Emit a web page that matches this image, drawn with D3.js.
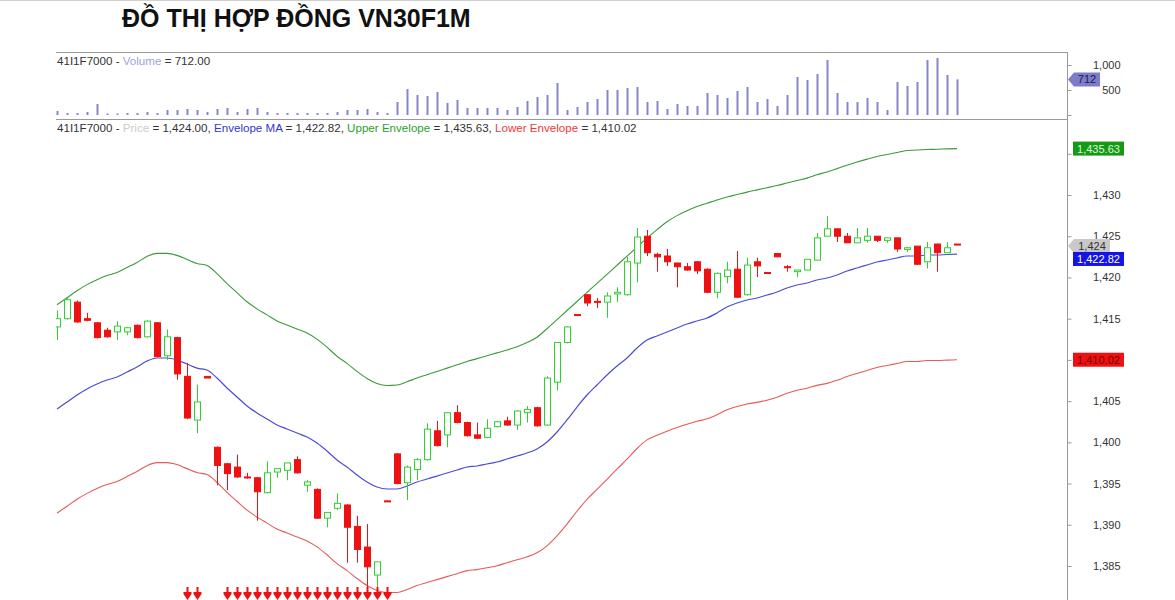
<!DOCTYPE html>
<html><head><meta charset="utf-8">
<script src="https://cdn.jsdelivr.net/npm/d3@7"></script>
<style>body{margin:0;background:#fff;} svg{display:block;font-family:"Liberation Sans",Arial,sans-serif;}</style>
</head><body><svg id="c" width="1175" height="600"></svg>
<script>
const title = "ĐỒ THỊ HỢP ĐỒNG VN30F1M";
const symbol = "41I1F7000";

const opens  = [1414.0,1415.0,1417.0,1415.0,1414.5,1413.6,1413.4,1413.4,1414.2,1412.8,1414.5,1410.5,1412.7,1408.0,1402.7,1408.0,1399.4,1397.4,1397.0,1395.8,1395.7,1393.9,1396.4,1396.6,1397.9,1394.8,1394.3,1390.8,1392.0,1392.4,1389.8,1387.3,1383.9,1392.9,1398.6,1395.1,1396.7,1397.9,1401.4,1400.9,1403.6,1402.4,1400.9,1400.6,1401.9,1402.6,1402.1,1403.6,1404.2,1402.1,1407.3,1412.1,1415.5,1417.9,1417.1,1417.0,1418.0,1417.9,1421.75,1425.0,1422.8,1422.6,1421.75,1421.3,1421.9,1421.0,1418.2,1420.1,1421.0,1417.9,1421.9,1420.6,1422.9,1421.3,1420.7,1420.9,1422.1,1425.0,1425.9,1425.0,1424.2,1424.5,1425.0,1424.5,1424.8,1423.4,1423.8,1421.9,1424.05,1423.0,1424.05];
const highs  = [1416.0,1417.5,1417.2,1415.7,1414.6,1413.9,1414.7,1414.0,1414.3,1414.8,1414.6,1413.7,1412.8,1409.6,1407.0,1408.0,1399.5,1397.5,1398.5,1396.3,1395.8,1397.7,1396.8,1397.5,1398.3,1395.4,1394.4,1391.5,1393.8,1392.5,1391.1,1390.1,1385.5,1392.9,1398.7,1397.2,1398.1,1402.3,1402.6,1403.6,1404.5,1402.5,1402.4,1402.8,1402.6,1403.1,1403.9,1404.4,1404.3,1408.0,1412.1,1414.1,1415.5,1418.0,1417.5,1418.2,1418.8,1422.5,1426.0,1425.75,1423.0,1423.45,1421.8,1421.75,1422.0,1421.1,1420.6,1421.9,1423.2,1422.4,1422.4,1420.6,1422.9,1421.5,1420.9,1422.2,1425.4,1427.45,1425.9,1425.4,1426.0,1426.0,1425.0,1424.8,1424.8,1423.7,1423.8,1424.3,1424.1,1424.3,1424.05];
const lows   = [1412.4,1414.9,1414.5,1414.7,1412.6,1412.7,1412.4,1413.0,1412.6,1412.7,1410.3,1410.0,1407.6,1402.8,1401.1,1407.8,1394.8,1394.2,1395.7,1395.6,1390.5,1393.8,1395.7,1395.4,1396.2,1394.0,1390.7,1389.7,1391.8,1385.4,1385.4,1381.5,1382.1,1392.8,1394.9,1393.0,1395.4,1397.8,1399.5,1399.4,1402.3,1400.7,1400.4,1400.5,1401.8,1402.0,1401.5,1402.4,1401.9,1402.0,1406.3,1412.0,1415.4,1416.5,1416.3,1415.1,1417.0,1417.8,1419.4,1422.6,1420.7,1421.4,1418.8,1420.8,1420.4,1418.1,1417.5,1419.3,1417.5,1417.8,1420.05,1420.5,1422.5,1420.7,1420.05,1420.9,1422.1,1425.0,1424.3,1424.2,1424.2,1424.2,1424.3,1424.2,1423.1,1423.1,1421.5,1421.1,1420.7,1423.0,1424.0];
const closes = [1415.0,1417.3,1414.6,1414.8,1412.7,1412.8,1414.1,1413.9,1412.7,1414.7,1410.4,1412.8,1408.3,1402.95,1404.9,1407.8,1397.2,1396.2,1395.8,1395.7,1394.0,1396.3,1396.8,1397.5,1396.3,1395.2,1390.8,1391.5,1392.6,1389.7,1387.0,1384.9,1385.5,1392.8,1395.0,1397.0,1397.9,1401.6,1399.6,1403.6,1402.4,1400.8,1400.5,1401.7,1402.5,1402.1,1403.8,1404.0,1402.0,1407.8,1412.1,1414.0,1415.4,1416.9,1417.0,1417.75,1418.2,1421.9,1424.9,1423.0,1422.5,1421.9,1421.3,1420.9,1420.8,1418.2,1420.5,1420.9,1417.6,1421.5,1421.4,1420.5,1422.5,1421.2,1420.9,1422.2,1424.8,1425.9,1425.0,1424.2,1424.8,1425.0,1424.5,1424.8,1423.45,1423.6,1421.6,1423.6,1423.0,1423.6,1424.0];

const volumes = [80,40,40,60,220,30,30,40,40,60,40,100,100,120,100,60,120,140,60,120,140,60,40,40,40,40,40,40,60,100,100,120,60,40,260,520,400,380,460,240,300,140,140,140,140,100,160,280,360,400,640,100,160,260,320,500,500,540,560,260,280,120,220,180,180,440,400,340,480,560,260,320,180,400,760,700,820,1100,440,260,260,340,260,100,660,580,660,1100,1140,800,712];

const envMA = [1404.04,1404.89,1405.74,1406.47,1407.07,1407.56,1407.92,1408.53,1409.14,1409.86,1410.23,1410.23,1409.99,1409.50,1409.01,1408.77,1407.80,1406.59,1405.50,1404.41,1403.56,1402.83,1402.10,1401.62,1401.13,1400.65,1399.92,1398.95,1397.86,1397.01,1396.04,1395.19,1394.58,1394.34,1394.34,1394.70,1395.19,1395.55,1395.91,1396.28,1396.64,1397.01,1397.13,1397.37,1397.61,1397.98,1398.34,1398.70,1399.19,1400.04,1401.25,1402.71,1404.28,1405.74,1406.95,1408.17,1409.26,1410.23,1411.44,1412.41,1412.90,1413.38,1413.87,1414.35,1414.72,1415.08,1415.69,1416.41,1416.90,1417.26,1417.51,1417.87,1418.23,1418.72,1419.08,1419.33,1419.69,1419.93,1420.30,1420.78,1421.15,1421.51,1421.87,1422.12,1422.36,1422.60,1422.60,1422.72,1422.72,1422.78,1422.82];
const envUpper = [1416.68,1417.53,1418.39,1419.13,1419.73,1420.23,1420.59,1421.21,1421.82,1422.55,1422.92,1422.92,1422.68,1422.19,1421.69,1421.45,1420.47,1419.25,1418.15,1417.05,1416.19,1415.46,1414.72,1414.23,1413.74,1413.26,1412.52,1411.54,1410.44,1409.58,1408.60,1407.75,1407.13,1406.89,1406.95,1407.35,1407.80,1408.20,1408.60,1409.00,1409.40,1409.80,1410.15,1410.50,1410.85,1411.20,1411.60,1412.10,1412.75,1413.78,1414.88,1415.99,1417.08,1418.19,1419.28,1420.38,1421.48,1422.58,1423.68,1424.77,1425.80,1426.75,1427.50,1428.10,1428.60,1429.00,1429.40,1429.75,1430.05,1430.35,1430.62,1430.88,1431.15,1431.45,1431.75,1432.05,1432.45,1432.80,1433.20,1433.62,1434.00,1434.35,1434.67,1434.92,1435.16,1435.40,1435.45,1435.52,1435.55,1435.60,1435.63];
const envLower = [1391.40,1392.25,1393.09,1393.81,1394.41,1394.89,1395.25,1395.85,1396.46,1397.17,1397.54,1397.54,1397.30,1396.81,1396.33,1396.09,1395.13,1393.93,1392.85,1391.77,1390.93,1390.20,1389.48,1389.01,1388.52,1388.04,1387.32,1386.36,1385.28,1384.44,1383.48,1382.63,1382.03,1381.79,1381.79,1382.15,1382.63,1382.99,1383.35,1383.71,1384.07,1384.44,1384.56,1384.79,1385.03,1385.40,1385.75,1386.11,1386.60,1387.44,1388.64,1390.09,1391.64,1393.09,1394.29,1395.50,1396.75,1397.95,1399.25,1400.30,1400.85,1401.35,1401.80,1402.20,1402.55,1402.85,1403.35,1403.95,1404.35,1404.65,1404.85,1405.11,1405.47,1405.95,1406.31,1406.56,1406.91,1407.15,1407.52,1407.99,1408.36,1408.72,1409.07,1409.32,1409.56,1409.80,1409.80,1409.92,1409.92,1409.97,1410.02];

const signalIdx = [13,14,17,18,19,20,21,22,23,24,25,26,27,28,29,30,31,32,33];
const priceTicks = [1385,1390,1395,1400,1405,1410,1415,1420,1425,1430,1435];
const volumeTicks = [0,500,1000];

const C_UP = "#2fd12f", C_DN = "#ee1111";
const svg = d3.select("#c");
const W = 1175;
const left = 56, right = 1067;
const FS = 11.6;

// scales
const x = d3.scaleLinear().domain([0, closes.length - 1]).range([57, 957]);
const y = d3.scaleLinear().domain([1385, 1430]).range([566, 195]);
const vy = d3.scaleLinear().domain([0, 1000]).range([115, 65]);

// top line
svg.append("line").attr("x1",0).attr("x2",W).attr("y1",0.5).attr("y2",0.5).attr("stroke","#d0d0d0");

// title
svg.append("text").attr("x",122).attr("y",27).attr("font-size",25).attr("font-weight","bold")
  .attr("fill","#111").text(title);

// clip paths
const defs = svg.append("defs");
defs.append("clipPath").attr("id","cp").append("rect").attr("x",left).attr("y",121).attr("width",right-left).attr("height",479);
defs.append("clipPath").attr("id","cv").append("rect").attr("x",left).attr("y",53).attr("width",right-left).attr("height",66);

// panel borders
svg.append("line").attr("x1",left).attr("x2",right).attr("y1",52.5).attr("y2",52.5).attr("stroke","#999");
svg.append("line").attr("x1",left).attr("x2",right).attr("y1",119.5).attr("y2",119.5).attr("stroke","#999");
svg.append("line").attr("x1",right+0.5).attr("x2",right+0.5).attr("y1",52).attr("y2",600).attr("stroke","#999");

// volume bars
const gv = svg.append("g").attr("clip-path","url(#cv)");
gv.selectAll("rect").data(volumes).join("rect")
  .attr("x",(d,i)=>Math.round(x(i))-0.5).attr("width",2)
  .attr("y",d=>vy(d)).attr("height",d=>Math.max(1,vy(0)-vy(d)))
  .attr("fill","#8585c8");

// volume axis
const vAxis = d3.axisRight(vy).tickValues(volumeTicks).tickSize(4).tickFormat(d=> d===0 ? "" : d3.format(",")(d));
const gva = svg.append("g").attr("transform",`translate(${right+0.5},0)`).call(vAxis);
gva.select(".domain").remove();
gva.selectAll("line").attr("stroke","#999");
gva.selectAll("text").attr("x",53).attr("text-anchor","end").attr("font-size",11).attr("fill","#333").attr("font-family","Liberation Sans, Arial, sans-serif");

// price panel
const gp = svg.append("g").attr("clip-path","url(#cp)");
const line = d3.line().x((d,i)=>x(i)).y(d=>y(d)).curve(d3.curveMonotoneX);
gp.append("path").datum(envUpper).attr("d",line).attr("fill","none").attr("stroke","#3c9a3c").attr("stroke-width",1.1);
gp.append("path").datum(envLower).attr("d",line).attr("fill","none").attr("stroke","#e85a5a").attr("stroke-width",1.1);
gp.append("path").datum(envMA).attr("d",line).attr("fill","none").attr("stroke","#4c4cd6").attr("stroke-width",1.2);

const candles = closes.map((c,i)=>({i, o:opens[i], h:highs[i], l:lows[i], c}));
const gc = gp.append("g");
candles.forEach(d=>{
  const cx = Math.round(x(d.i));
  const up = d.c >= d.o;
  const col = up ? C_UP : C_DN;
  gc.append("line").attr("x1",cx+0.5).attr("x2",cx+0.5).attr("y1",y(d.h)).attr("y2",y(d.l)).attr("stroke",col).attr("stroke-width",1);
  const top = y(Math.max(d.o,d.c)), bot = y(Math.min(d.o,d.c));
  gc.append("rect").attr("x",cx-2.5).attr("width",6)
    .attr("y",top).attr("height",Math.max(1,bot-top))
    .attr("fill", up ? "#fff" : C_DN).attr("stroke",col).attr("stroke-width",1);
});

// signal arrows
const ga = gp.append("g");
signalIdx.forEach(i=>{
  const cx = Math.round(x(i)) + 0.5;
  ga.append("path").attr("d",`M${cx-1},587 L${cx+1},587 L${cx+1},592 L${cx+4},592 L${cx+4},594 L${cx},600 L${cx-4},594 L${cx-4},592 L${cx-1},592 Z`)
    .attr("fill","#ee1111");
});

// header labels
const f2 = d3.format(",.2f");
const n = closes.length - 1;
const vl = svg.append("text").attr("x",57).attr("y",65).attr("font-size",FS).attr("fill","#333");
vl.append("tspan").text(symbol + " - ");
vl.append("tspan").attr("fill","#a0a0e0").text("Volume");
vl.append("tspan").text(" = " + f2(volumes[n]));

const pl = svg.append("text").attr("x",57).attr("y",132).attr("font-size",FS).attr("fill","#333");
pl.append("tspan").text(symbol + " - ");
pl.append("tspan").attr("fill","#cccccc").text("Price");
pl.append("tspan").text(" = " + f2(closes[n]) + ", ");
pl.append("tspan").attr("fill","#3434d0").text("Envelope MA");
pl.append("tspan").text(" = " + f2(envMA[n]) + ", ");
pl.append("tspan").attr("fill","#2e9e2e").text("Upper Envelope");
pl.append("tspan").text(" = " + f2(envUpper[n]) + ", ");
pl.append("tspan").attr("fill","#ee3a3a").text("Lower Envelope");
pl.append("tspan").text(" = " + f2(envLower[n]));

// callout positions
const boxes = [
  {cy: y(envUpper[n]), txt: f2(envUpper[n]), fill:"#169a16", tcol:"#d8f8d8"},
  {cy: y(closes[n]) + 14.5, txt: f2(envMA[n]), fill:"#1414e8", tcol:"#ffffff"},
  {cy: y(envLower[n]), txt: f2(envLower[n]), fill:"#ee1111", tcol:"#7a0000"}
];

// price axis (labels hidden where a value box covers them)
const pAxis = d3.axisRight(y).tickValues(priceTicks).tickSize(4).tickFormat(d3.format(","));
const gpa = svg.append("g").attr("transform",`translate(${right+0.5},0)`).call(pAxis);
gpa.select(".domain").remove();
gpa.selectAll("line").attr("stroke","#999");
gpa.selectAll("text").attr("x",53).attr("text-anchor","end").attr("font-size",11).attr("fill","#333").attr("font-family","Liberation Sans, Arial, sans-serif");
gpa.selectAll(".tick").filter(d => boxes.some(b => Math.abs(y(d) - b.cy) < 11)).select("text").remove();

function pointer(cy, txt, fill, tcol, x0, x1){
  const h = 7;
  svg.append("path").attr("d",`M${x0},${cy} L${x0+6},${cy-h} L${x1},${cy-h} L${x1},${cy+h} L${x0+6},${cy+h} Z`).attr("fill",fill);
  svg.append("text").attr("x",(x0+6+x1)/2).attr("y",cy+4).attr("text-anchor","middle").attr("font-size",11).attr("fill",tcol).text(txt);
}
function box(b){
  svg.append("rect").attr("x",1073).attr("y",b.cy-7).attr("width",51).attr("height",14).attr("fill",b.fill);
  svg.append("text").attr("x",1098.5).attr("y",b.cy+4).attr("text-anchor","middle").attr("font-size",11).attr("fill",b.tcol).text(b.txt);
}
pointer(vy(volumes[n]), d3.format(",")(volumes[n]), "#7c7cc8", "#1a1a50", 1068, 1100);
pointer(y(closes[n])+1.5, d3.format(",")(closes[n]), "#c9c9c9", "#333", 1068, 1110);
boxes.forEach(box);
</script></body></html>
